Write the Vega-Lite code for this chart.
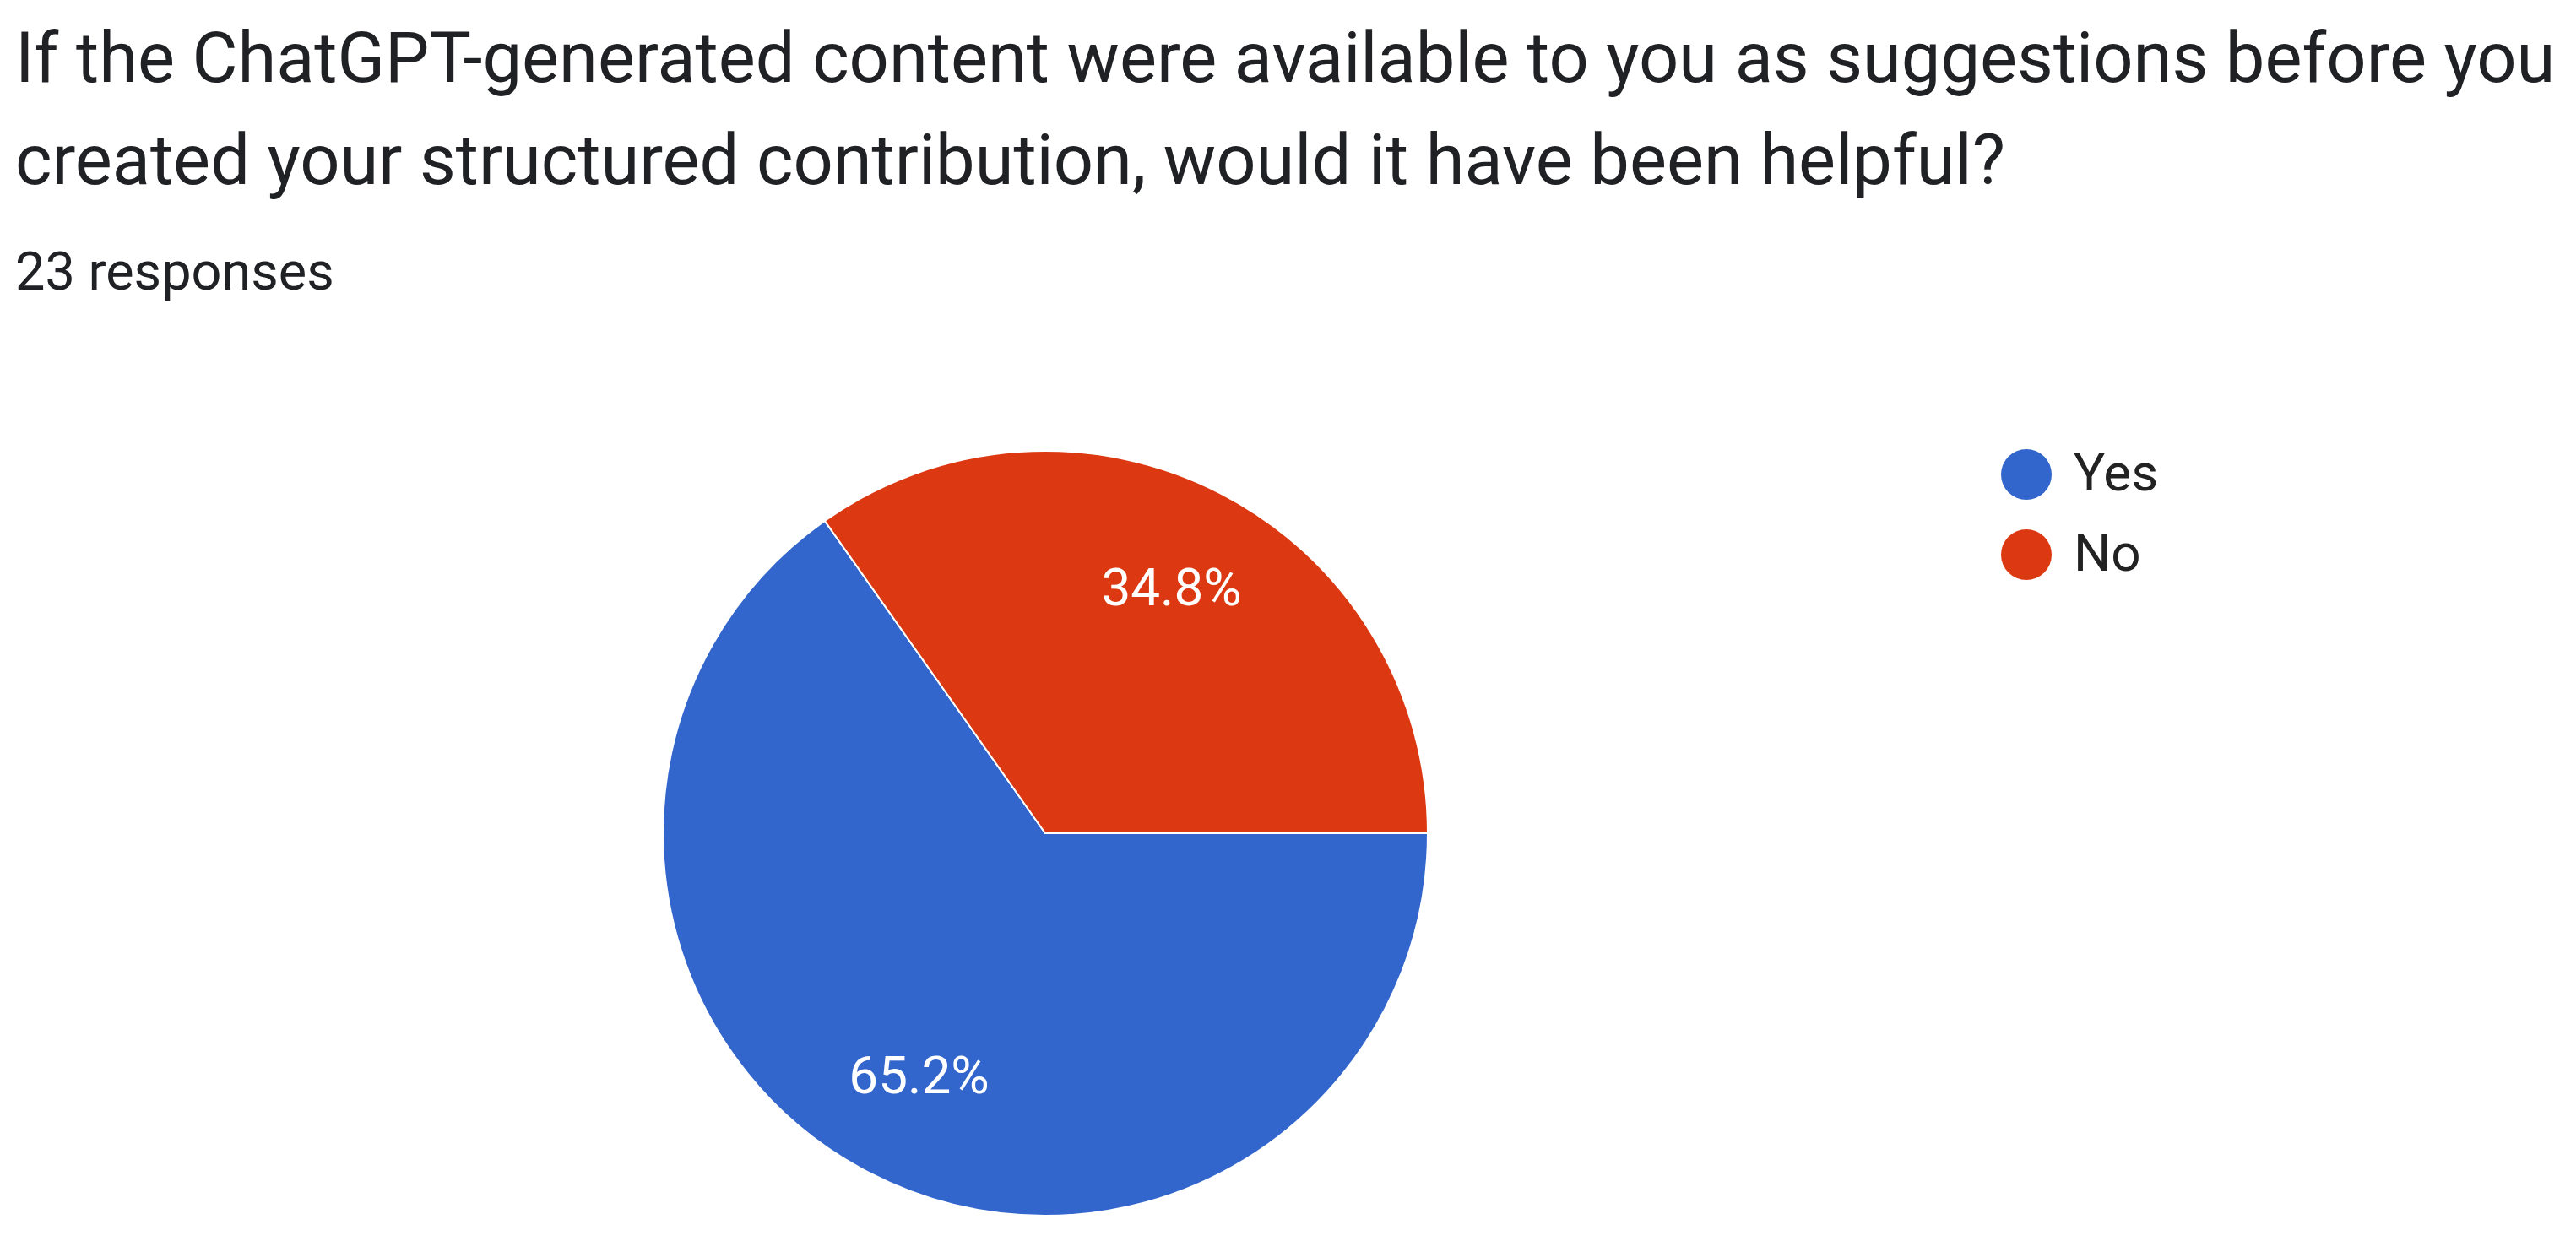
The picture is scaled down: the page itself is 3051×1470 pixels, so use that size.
{
  "$schema": "https://vega.github.io/schema/vega-lite/v6.json",
  "autosize": {"type": "none"},
  "padding": {"left": 300, "top": 531, "right": 875, "bottom": 27},
  "width": 1876,
  "height": 912,
  "background": "#ffffff",
  "title": {
    "text": ["If the ChatGPT-generated content were available to you as suggestions before you", "created your structured contribution, would it have been helpful?"],
    "subtitle": "23 responses",
    "anchor": "start",
    "frame": "group",
    "dx": -282,
    "offset": 174,
    "font": "Roboto",
    "fontSize": 83,
    "fontWeight": "normal",
    "lineHeight": 121,
    "color": "#202124",
    "subtitleFont": "Roboto",
    "subtitleFontSize": 63,
    "subtitleColor": "#202124",
    "subtitlePadding": 58
  },
  "data": {
    "values": [
      {"answer": "Yes", "count": 15, "label": "65.2%"},
      {"answer": "No", "count": 8, "label": "34.8%"}
    ]
  },
  "encoding": {
    "theta": {"field": "count", "type": "quantitative", "stack": true, "scale": {"range": [1.5707963, 7.8539816]}},
    "order": {"field": "count", "type": "quantitative", "sort": "descending"}
  },
  "layer": [
    {
      "mark": {"type": "arc", "outerRadius": 453, "stroke": "#ffffff", "strokeWidth": 2},
      "encoding": {
        "color": {
          "field": "answer",
          "type": "nominal",
          "scale": {"domain": ["Yes", "No"], "range": ["#3366CC", "#DC3912"]},
          "legend": {
            "title": null,
            "orient": "right",
            "offset": 193,
            "padding": 0,
            "symbolType": "circle",
            "symbolSize": 3600,
            "symbolStrokeWidth": 0,
            "symbolOpacity": 1,
            "labelFont": "Roboto",
            "labelFontSize": 62,
            "labelColor": "#222222",
            "labelOffset": 25,
            "rowPadding": 33
          }
        }
      }
    },
    {
      "mark": {"type": "text", "radius": 325, "font": "Roboto", "fontSize": 62, "color": "#ffffff", "baseline": "middle", "align": "center"},
      "encoding": {
        "text": {"field": "label", "type": "nominal"}
      }
    }
  ]
}
